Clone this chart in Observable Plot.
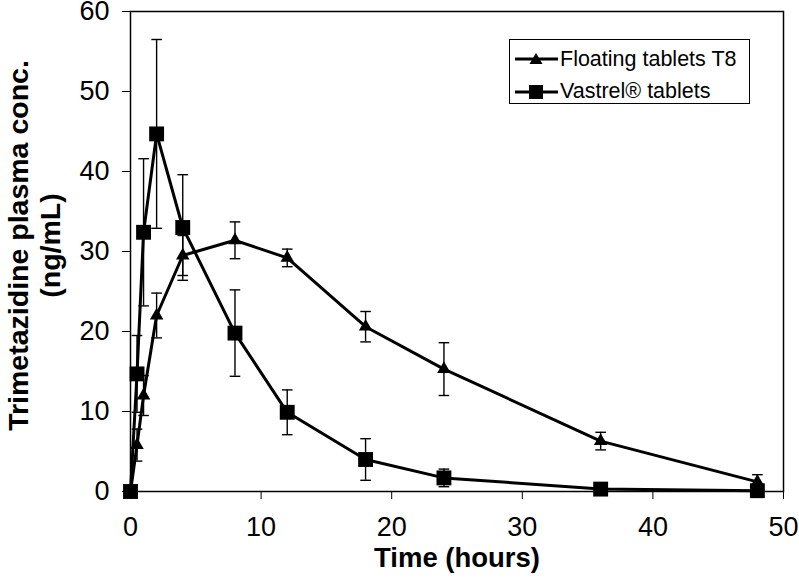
<!DOCTYPE html>
<html>
<head>
<meta charset="utf-8">
<script src="https://cdn.jsdelivr.net/npm/d3@7"></script>
<script src="https://cdn.jsdelivr.net/npm/@observablehq/plot@0.6"></script>
<style>
  html, body { margin: 0; padding: 0; background: #fff; }
  #wrap { position: relative; width: 799px; height: 584px; }
  #legend {
    position: absolute; left: 509px; top: 39px; width: 239px; height: 63px;
    border: 1.5px solid #000; background: #fff;
    font-family: "Liberation Sans", Arial, sans-serif; font-size: 21.5px; color: #000;
  }
  .row { position: absolute; left: 4px; height: 24px; display: flex; align-items: center; }
  .row svg { display: block; margin-right: 2px; }
</style>
</head>
<body>
<div id="wrap"></div>
<script>
// ---- data ----
const times = [0, 0.5, 1, 2, 4, 8, 12, 18, 24, 36, 48];
const floatingMean = [0, 5.8, 12, 22, 29.5, 31.4, 29.2, 20.6, 15.3, 6.3, 1.2];
const floatingSD   = [0, 2.0, 2.5, 2.8, 2.5, 2.3, 1.1, 1.9, 3.3, 1.1, 0.9];
const vastrelMean  = [0, 14.7, 32.4, 44.7, 33.0, 19.8, 9.9, 4.0, 1.7, 0.3, 0.1];
const vastrelSD    = [0, 4.8, 9.2, 11.8, 6.6, 5.4, 2.8, 2.6, 1.1, 0.3, 0.2];
const seriesNames  = ["Floating tablets T8", "Vastrel\u00ae tablets"];
const xTicks = [0, 10, 20, 30, 40, 50];
const yTicks = [0, 10, 20, 30, 40, 50, 60];

const floating = times.map((t, i) => ({t, m: floatingMean[i], sd: floatingSD[i]}));
const vastrel  = times.map((t, i) => ({t, m: vastrelMean[i], sd: vastrelSD[i]}));

const cap = { draw(ctx) { ctx.moveTo(-5.3, 0); ctx.lineTo(5.3, 0); } };

function errorMarks(data) {
  return [
    Plot.ruleX(data, {x: "t", y1: d => Math.max(0, d.m - d.sd), y2: d => d.m + d.sd, stroke: "#000", strokeWidth: 1.4}),
    Plot.dot(data.filter(d => d.sd > 0), {x: "t", y: d => d.m + d.sd, symbol: cap, stroke: "#000", fill: "none", strokeWidth: 1.4}),
    Plot.dot(data.filter(d => d.sd > 0 && d.m - d.sd > 0), {x: "t", y: d => d.m - d.sd, symbol: cap, stroke: "#000", fill: "none", strokeWidth: 1.4})
  ];
}

const chart = Plot.plot({
  width: 799,
  height: 584,
  marginLeft: 130,
  marginRight: 16,
  marginTop: 11,
  marginBottom: 93,
  style: { fontFamily: "'Liberation Sans', Arial, sans-serif", fontSize: "27px", background: "#fff", color: "#000" },
  x: { domain: [0, 50], ticks: xTicks, tickSize: 8, tickPadding: 17, label: null },
  y: { domain: [0, 60], ticks: yTicks, tickSize: 8, tickPadding: 13, label: null },
  marks: [
    Plot.frame({stroke: "#000", strokeWidth: 1.5}),
    ...errorMarks(floating),
    ...errorMarks(vastrel),
    Plot.line(floating, {x: "t", y: "m", stroke: "#000", strokeWidth: 3}),
    Plot.line(vastrel, {x: "t", y: "m", stroke: "#000", strokeWidth: 3}),
    Plot.dot(floating, {x: "t", y: "m", symbol: "triangle", r: 5, fill: "#000", stroke: "none"}),
    Plot.dot(vastrel, {x: "t", y: "m", symbol: "square", r: 8.4, fill: "#000", stroke: "none"}),
    Plot.text(["Time (hours)"], {frameAnchor: "bottom", dy: 75, fontWeight: "bold", fontSize: 27.5}),
    Plot.text(["Trimetazidine plasma conc.\n(ng/mL)"], {frameAnchor: "left", textAnchor: "middle", rotate: -90, dx: -97, dy: -6, fontWeight: "bold", fontSize: 28.5, lineHeight: 1.12})
  ]
});

const wrap = document.getElementById("wrap");
wrap.appendChild(chart);

// legend
const legend = document.createElement("div");
legend.id = "legend";
const symbols = ["triangle", "square"];
seriesNames.forEach((name, i) => {
  const row = document.createElement("div");
  row.className = "row";
  row.style.top = (7 + i * 32.5) + "px";
  const marker = symbols[i] === "triangle"
    ? '<polygon points="22,5 28.5,16 15.5,16" fill="#000"/>'
    : '<rect x="15" y="4" width="14" height="14" fill="#000"/>';
  row.innerHTML = `<svg width="44" height="22"><line x1="1" y1="11" x2="44" y2="11" stroke="#000" stroke-width="3"/>${marker}</svg><span>${name}</span>`;
  legend.appendChild(row);
});
wrap.appendChild(legend);
</script>
</body>
</html>
